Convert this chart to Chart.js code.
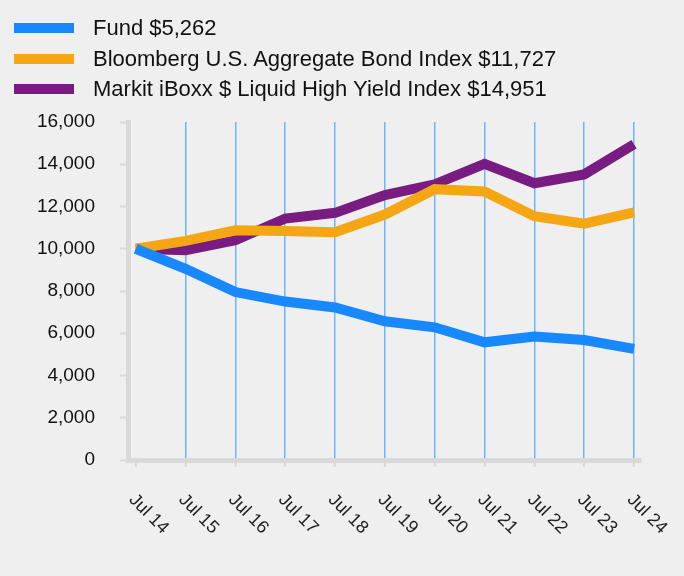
<!DOCTYPE html>
<html>
<head>
<meta charset="utf-8">
<script src="https://cdn.jsdelivr.net/npm/chart.js@4/dist/chart.umd.min.js"></script>
<style>
  body { margin: 0; background: #efefef; }
  #wrap { position: relative; width: 684px; height: 576px; }
  #legend { position: absolute; left: 0; top: 0; font-family: "Liberation Sans", Arial, sans-serif; font-size: 22px; color: #111; }
  .item { position: absolute; left: 14px; height: 24px; white-space: nowrap; }
  .swatch { position: absolute; left: 0; top: 7px; width: 60px; height: 10px; }
  .text { position: absolute; left: 79px; top: 0; line-height: 24px; }
</style>
</head>
<body>
<div id="wrap">
  <canvas id="growthChart" width="684" height="576"></canvas>
  <div id="legend"></div>
</div>
<script>
// Category labels (x axis)
const years = ['Jul 14', 'Jul 15', 'Jul 16', 'Jul 17', 'Jul 18', 'Jul 19', 'Jul 20', 'Jul 21', 'Jul 22', 'Jul 23', 'Jul 24'];

// Growth of $10,000
const fund = [10000, 9050, 7950, 7500, 7220, 6570, 6280, 5570, 5840, 5680, 5262];
const bondIndex = [10000, 10370, 10870, 10840, 10780, 11620, 12820, 12710, 11540, 11190, 11727];
const highYieldIndex = [10000, 9930, 10400, 11430, 11700, 12540, 13050, 14020, 13100, 13520, 14951];

// Legend labels
const seriesNames = ['Fund $5,262', 'Bloomberg U.S. Aggregate Bond Index $11,727', 'Markit iBoxx $ Liquid High Yield Index $14,951'];
const seriesColors = ['#1788fd', '#f4a614', '#781c81'];

const toPoints = arr => arr.map((v, i) => ({ x: i, y: v }));

// Rotated x labels (text runs down to the right)
const xLabelPlugin = {
  id: 'xLabels',
  afterDraw(chart) {
    const ctx = chart.ctx;
    const xs = chart.scales.x;
    ctx.save();
    ctx.font = '18px "Liberation Sans", Arial, sans-serif';
    ctx.fillStyle = '#222';
    ctx.textAlign = 'left';
    ctx.textBaseline = 'middle';
    years.forEach((label, i) => {
      const x = xs.getPixelForValue(i);
      ctx.save();
      ctx.translate(x - 4, chart.chartArea.bottom + 37);
      ctx.rotate(Math.PI / 4);
      ctx.fillText(label, 0, 0);
      ctx.restore();
    });
    ctx.restore();
  }
};

Chart.defaults.font.family = '"Liberation Sans", Arial, sans-serif';
Chart.defaults.color = '#111';

const ctx = document.getElementById('growthChart').getContext('2d');
const chart = new Chart(ctx, {
  type: 'line',
  data: {
    datasets: [fund, bondIndex, highYieldIndex].map((values, i) => ({
      label: seriesNames[i],
      data: toPoints(values),
      borderColor: seriesColors[i],
      backgroundColor: seriesColors[i],
      borderWidth: 10,
      borderCapStyle: 'butt',
      pointRadius: 0,
      tension: 0
    }))
  },
  options: {
    responsive: false,
    animation: false,
    layout: { padding: { top: 122, right: 43, left: 0, bottom: 0 } },
    plugins: {
      legend: { display: false },
      tooltip: { enabled: false }
    },
    scales: {
      x: {
        type: 'linear',
        min: -0.155,
        max: 10.14,
        afterBuildTicks: scale => { scale.ticks = years.map((_, i) => ({ value: i })); },
        afterFit: scale => { scale.height = 116; },
        ticks: { display: false },
        grid: {
          color: c => (c.tick && c.tick.value > 0 ? '#6cb4ff' : 'rgba(0,0,0,0)'),
          lineWidth: 1.5,
          tickColor: '#d9d9d9',
          tickWidth: 2,
          tickLength: 7
        },
        border: { color: '#d9d9d9', width: 5 }
      },
      y: {
        min: 0,
        max: 16000,
        afterFit: scale => { scale.width = 128; },
        ticks: {
          stepSize: 2000,
          padding: 25,
          font: { size: 19 },
          color: '#111',
          callback: v => v.toLocaleString('en-US')
        },
        grid: {
          drawOnChartArea: false,
          tickColor: '#d9d9d9',
          tickWidth: 2,
          tickLength: 8
        },
        border: { color: '#d9d9d9', width: 5 }
      }
    }
  },
  plugins: [xLabelPlugin]
});

// HTML legend built from the chart's datasets
const legendEl = document.getElementById('legend');
const rowCenters = [28, 59, 89];
chart.data.datasets.forEach((ds, i) => {
  const item = document.createElement('div');
  item.className = 'item';
  item.style.top = (rowCenters[i] - 12) + 'px';
  item.innerHTML = '<span class="swatch" style="background:' + ds.borderColor + '"></span><span class="text"></span>';
  item.querySelector('.text').textContent = ds.label;
  legendEl.appendChild(item);
});
</script>
</body>
</html>
